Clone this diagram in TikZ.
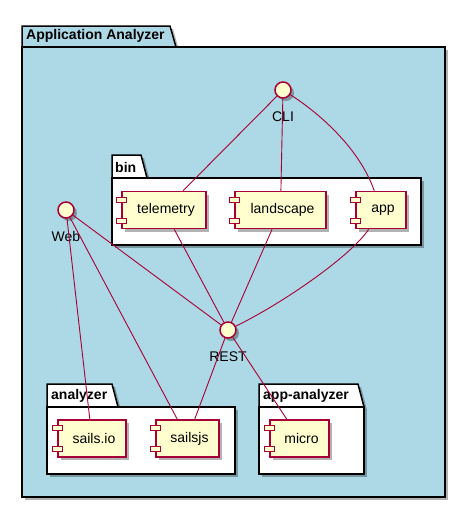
\documentclass[tikz,border=0pt]{standalone}
\usepackage{fontspec}
\setmainfont{Liberation Sans}
\usetikzlibrary{shadows}
\definecolor{umlred}{HTML}{A80036}
\definecolor{umlfill}{HTML}{FEFECE}
\definecolor{pkgblue}{HTML}{ADD8E6}

\begin{document}
\begin{tikzpicture}[x=1pt, y=-1pt,
  shade/.style={drop shadow={shadow xshift=3pt, shadow yshift=-3pt, opacity=0.3, fill=black}},
  pkg/.style={draw=black, line width=1.5pt, fill=white, shade},
  pkglabel/.style={anchor=west, inner sep=0pt, font=\fontsize{14}{16}\selectfont\bfseries},
  comp/.style={draw=umlred, line width=1.5pt, fill=umlfill, shade, minimum height=37pt,
               inner sep=0pt, font=\fontsize{14}{16}\selectfont},
  pin/.style={draw=umlred, line width=1pt, fill=umlfill},
  iface/.style={circle, draw=umlred, line width=1.5pt, fill=umlfill, minimum size=16pt,
                inner sep=0pt, shade},
  iflabel/.style={inner sep=0pt, font=\fontsize{14}{16}\selectfont},
  link/.style={draw=umlred, line width=0.9pt}
]
  \useasboundingbox (0,0) rectangle (466,509);

  % packages
  \filldraw[pkg, fill=pkgblue] (22,26) -- (170,26) -- (176,47) -- (22,47) -- cycle;
  \filldraw[pkg, fill=pkgblue] (22,47) rectangle (445,497);
  \node[pkglabel] (outerlabel) at (26,36) {Application Analyzer};

  \filldraw[pkg] (112,155) -- (141,155) -- (147,178) -- (112,178) -- cycle;
  \filldraw[pkg] (112,178) rectangle (421,245);
  \node[pkglabel] (binlabel) at (115,167) {bin};

  \filldraw[pkg] (47,384) -- (112,384) -- (118,407) -- (47,407) -- cycle;
  \filldraw[pkg] (47,407) rectangle (235,474);
  \node[pkglabel] (analyzerlabel) at (51,396) {analyzer};

  \filldraw[pkg] (259,384) -- (358,384) -- (364,407) -- (259,407) -- cycle;
  \filldraw[pkg] (259,407) rectangle (364,474);
  \node[pkglabel] (appanalyzerlabel) at (263,396) {app-analyzer};

  % interfaces
  \node[iface] (cli) at (283,90) {};
  \node[iflabel] (clilabel) at (283,117) {CLI};
  \node[iface] (web) at (66,210) {};
  \node[iflabel] (weblabel) at (66,236) {Web};
  \node[iface] (rest) at (228,330) {};
  \node[iflabel] (restlabel) at (228,357) {REST};

  % components
  \node[comp, minimum width=84pt] (telemetry) at (164,210) {\hspace{4pt}telemetry};
  \node[comp, minimum width=91pt] (landscape) at (280.5,210) {\hspace{4pt}landscape};
  \node[comp, minimum width=50pt] (app) at (381,210) {\hspace{4pt}app};
  \node[comp, minimum width=68pt] (sailsio) at (92,438.5) {\hspace{4pt}sails.io};
  \node[comp, minimum width=63pt] (sailsjs) at (187.5,438.5) {\hspace{4pt}sailsjs};
  \node[comp, minimum width=59pt] (micro) at (299.5,438.5) {\hspace{4pt}micro};

  \foreach \c in {telemetry,landscape,app,sailsio,sailsjs,micro}{
    \draw[pin] ([shift={(-5,-13)}]\c.west) rectangle ++(10,5);
    \draw[pin] ([shift={(-5,8)}]\c.west) rectangle ++(10,5);
  }

  % connectors
  \draw[link] (cli) -- (telemetry);
  \draw[link] (cli) -- (landscape);
  \draw[link] (cli) .. controls (322,115) and (360,150) .. (app);
  \draw[link] (telemetry) -- (rest);
  \draw[link] (landscape) -- (rest);
  \draw[link] (app) .. controls (352,255) and (285,302) .. (rest);
  \draw[link] (web) -- (rest);
  \draw[link] (web) -- (sailsio);
  \draw[link] (web) -- (sailsjs);
  \draw[link] (rest) -- (sailsjs);
  \draw[link] (rest) -- (micro);
\end{tikzpicture}
\end{document}
